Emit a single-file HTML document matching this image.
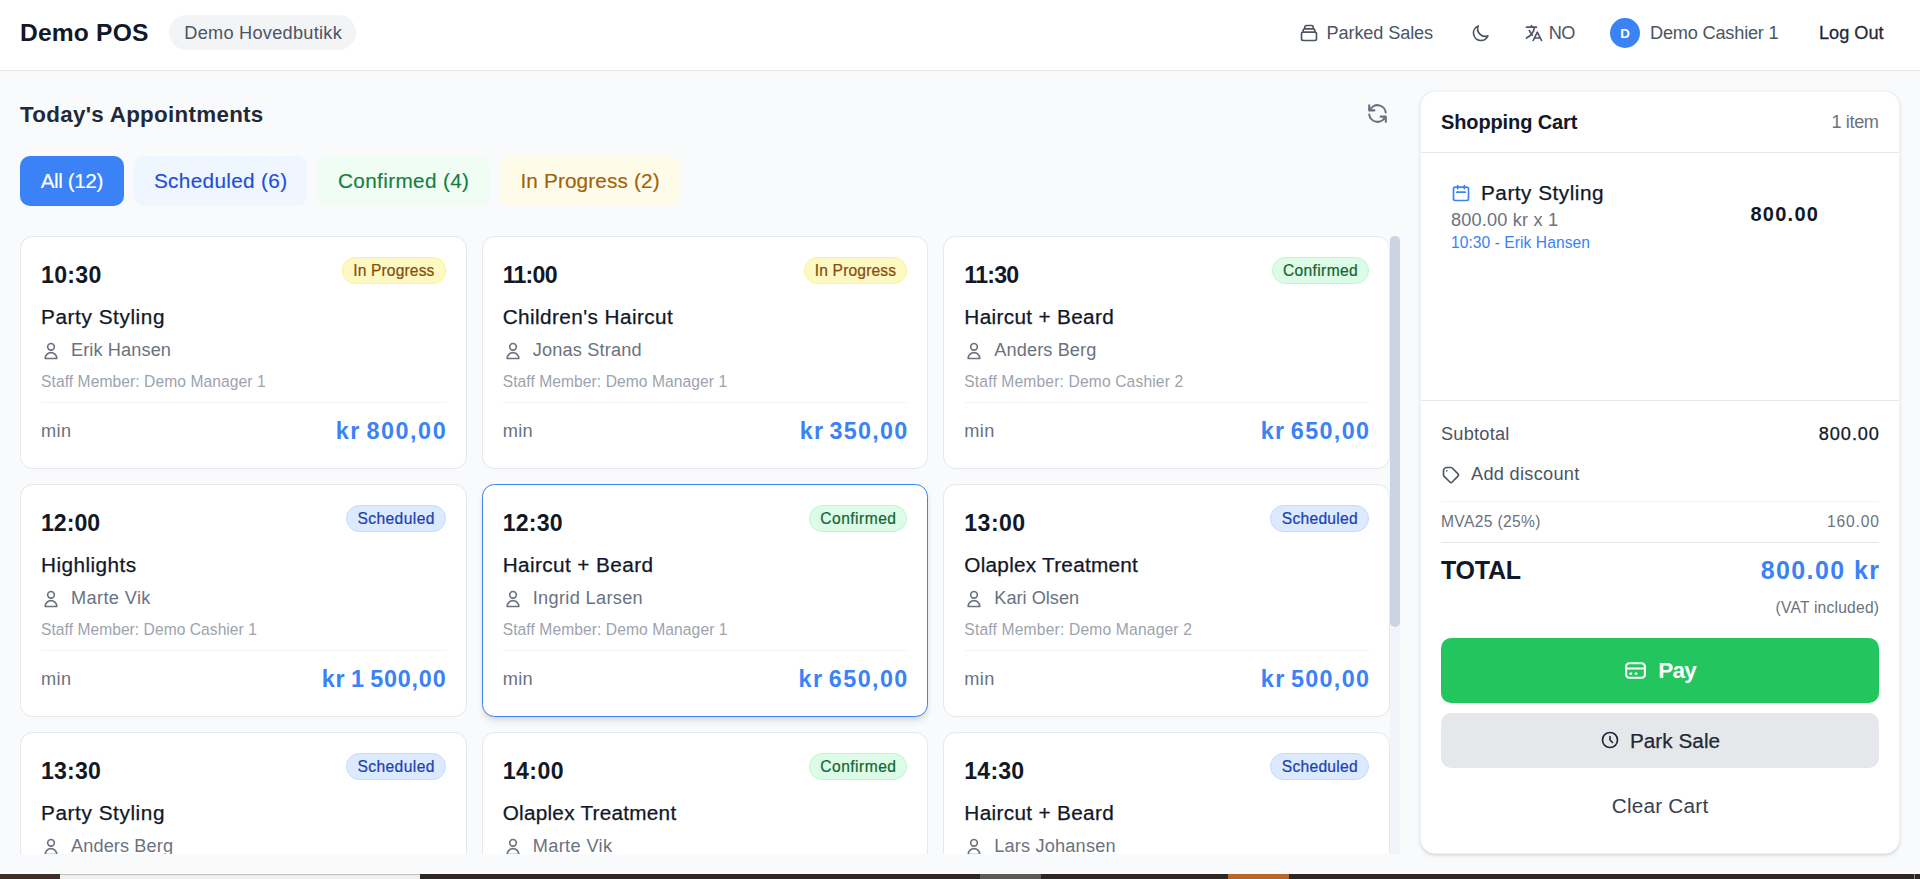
<!DOCTYPE html>
<html lang="en">
<head>
<meta charset="utf-8">
<title>Demo POS</title>
<style>
*{box-sizing:border-box;margin:0;padding:0}
html,body{width:1920px;height:879px;overflow:hidden;background:#f9fafb}
body{font-family:"Liberation Sans",sans-serif;color:#111827;position:relative}
#app{zoom:1.25;width:1536px;height:699.2px;position:absolute;left:0;top:0;background:#f9fafb;overflow:hidden}
svg{display:block;fill:none;stroke:currentColor;stroke-width:2;stroke-linecap:round;stroke-linejoin:round}
span{white-space:nowrap}

/* header */
.hdr{position:relative;height:56.8px;background:#fff;border-bottom:1px solid #e5e7eb}
.hi{position:absolute;top:0;height:52.8px;display:flex;align-items:center;white-space:nowrap}
.brand{left:16px;top:-.7px;font-size:19.7px;line-height:28px;font-weight:700;color:#111827}
.store{left:135.4px;top:12px;height:28px;width:149.3px;font-size:14.55px;line-height:20px;color:#4b5563;background:#f3f4f6;border-radius:9999px;padding:0 12px}
.hr{color:#4b5563;font-size:14.55px;line-height:20px}
.i4{width:16px;height:16px;flex:none}
.i5{width:20px;height:20px;flex:none}
.avatar{width:24px;height:24px;border-radius:50%;background:#3b82f6;color:#fff;font-size:10.6px;font-weight:700;display:flex;align-items:center;justify-content:center}
.logout{color:#1f2937}
.store span{position:relative;top:.5px}
.med{-webkit-text-stroke:.22px currentColor}

/* layout */
.wrap{display:flex;height:642.4px}
.main{flex:1;padding:16px 0 0 16px;min-width:0}
.trow{display:flex;align-items:center;justify-content:space-between;height:36px;margin-bottom:16px;width:1104px}
.title{font-size:17.9px;line-height:28px;font-weight:700;color:#1f2937;position:relative;top:.4px}
.refresh{width:36px;height:36px;display:flex;align-items:center;justify-content:center;color:#6b7280}
.tabs{display:flex;gap:8px;margin-bottom:24px}
.tab{font-size:16.6px;line-height:24px;padding:8px 0;border-radius:8px;white-space:nowrap;text-align:center;-webkit-text-stroke:.12px currentColor}
.t1{background:#3b82f6;color:#fff;width:83.2px}
.t2{background:#eff6ff;color:#1d4ed8;width:138.4px}
.t3{background:#f0fdf4;color:#15803d;width:138.4px}
.t4{background:#fefce8;color:#a16207;width:144px}

.scroll{position:relative;width:1104px;height:494px;overflow:hidden}
.grid{display:grid;grid-template-columns:repeat(3,357.33px);gap:12px;width:1096px}
.track{position:absolute;right:0;top:0;width:8px;height:494px;background:#f1f5f9}
.thumb{position:absolute;right:0;top:0;width:8px;height:312.5px;border-radius:4px;background:#cbd5e1}

.card{background:#fff;border:1px solid #e5e7eb;border-radius:10px;padding:16px;height:186.4px}
.card.hov{border-color:#3b82f6;box-shadow:0 4px 6px -1px rgba(0,0,0,.1),0 2px 4px -2px rgba(0,0,0,.1)}
.r1{display:flex;justify-content:space-between;align-items:flex-start;margin-bottom:8px}
.time{font-size:18.5px;line-height:28px;font-weight:700;color:#111827;position:relative;top:.4px}
.bdg{-webkit-text-stroke:.18px currentColor;font-size:12.5px;line-height:16px;padding:2px 8.2px;border-radius:9999px;border:1px solid;white-space:nowrap}
.b-p{background:#fef9c3;color:#854d0e;border-color:#fef08a}
.b-c{background:#dcfce7;color:#166534;border-color:#bbf7d0}
.b-s{background:#dbeafe;color:#1e40af;border-color:#bfdbfe}
.svc{font-size:16.6px;line-height:24px;color:#111827;-webkit-text-stroke:.2px currentColor}
.cust{margin-top:5px;display:flex;align-items:center;gap:8px;font-size:14.55px;line-height:20px;color:#6b7280}
.staff{margin-top:7px;font-size:12.5px;line-height:16px;color:#9ca3af}
.foot{margin-top:8px;padding-top:9px;border-top:1px solid #f3f4f6;display:flex;justify-content:space-between;align-items:center}
.min{font-size:14.55px;line-height:20px;color:#6b7280}
.price{font-size:18.7px;line-height:28px;font-weight:700;color:#3b82f6;word-spacing:-2px}

/* cart */
.cart{width:384px;margin:16px 16px 0 16px;height:610.2px;background:#fff;border:1px solid #f1f2f4;border-radius:12px;box-shadow:0 1px 3px 0 rgba(0,0,0,.1),0 1px 2px -1px rgba(0,0,0,.1);display:flex;flex-direction:column;flex:none}
.chead{display:flex;justify-content:space-between;align-items:center;padding:12px 16px;border-bottom:1px solid #e5e7eb}
.ctitle{font-size:16px;line-height:24px;font-weight:700;color:#111827}
.ccount{font-size:14.55px;line-height:20px;color:#6b7280}
.items{flex:1;padding:12px}
.item{padding:8px 12px;display:flex;justify-content:space-between;align-items:center}
.iname{display:flex;align-items:center;gap:8px;font-size:16.6px;line-height:24px;color:#111827;-webkit-text-stroke:.2px currentColor}
.iname svg{color:#3b82f6}
.isub{font-size:14.55px;line-height:20px;color:#6b7280}
.iappt{font-size:12.5px;line-height:16px;color:#3b82f6}
.iamt{font-size:16px;line-height:24px;font-weight:700;color:#111827;margin-right:40.8px;position:relative;top:-1px}
.tot{border-top:1px solid #e5e7eb;padding:16.8px 16px 16px}
.row{display:flex;justify-content:space-between;align-items:center}
.sub{font-size:14.55px;line-height:20px;color:#4b5563}
.sub .v{color:#111827;-webkit-text-stroke:.2px currentColor}
.disc{margin-top:8px;padding:4px 0;display:flex;align-items:center;gap:8px;font-size:14.55px;line-height:20px;color:#4b5563}
.vat{margin-top:7px;padding-top:8px;border-top:1px solid #f3f4f6;font-size:12.5px;line-height:16px;color:#6b7280}
.total{margin-top:8px;padding-top:8px;border-top:1px solid #e5e7eb;font-size:20px;line-height:28px;font-weight:700;color:#111827}
.total .amt{color:#3b82f6}
.incl{margin-top:8px;text-align:right;font-size:12.5px;line-height:16px;color:#6b7280}
.pay{margin-top:16px;height:52px;border-radius:8px;background:#22c55e;color:#fff;font-size:18px;line-height:28px;font-weight:700;display:flex;align-items:center;justify-content:center;gap:8px}
.park{margin-top:8px;height:44px;border-radius:8px;background:#e5e7eb;color:#1f2937;font-size:16.6px;line-height:24px;-webkit-text-stroke:.2px currentColor;display:flex;align-items:center;justify-content:center;gap:8px}
.park span,.clear span{position:relative;top:.6px}
.clear{margin-top:8px;height:44px;color:#374151;font-size:16.6px;line-height:24px;display:flex;align-items:center;justify-content:center}

/* bottom strip (outside app, device px) */
#strip{position:absolute;left:0;top:873px;width:1920px;height:6px;background:#fff}
#strip i{position:absolute;top:1px;height:5px;display:block}

/* per-string letter-spacing to match reference text extents */
#brand{letter-spacing:0.137px;margin-right:-0.137px}
#c1b{letter-spacing:0.112px;margin-right:-0.112px}
#c1d{letter-spacing:0.300px;margin-right:-0.300px}
#c1m{letter-spacing:0.059px;margin-right:-0.059px}
#c1n{letter-spacing:0.080px;margin-right:-0.080px}
#c1p{letter-spacing:1.240px;margin-right:-1.240px}
#c1s{letter-spacing:0.467px;margin-right:-0.467px}
#c1t{letter-spacing:0.240px;margin-right:-0.240px}
#c2b{letter-spacing:0.112px;margin-right:-0.112px}
#c2d{letter-spacing:0.300px;margin-right:-0.300px}
#c2m{letter-spacing:0.053px;margin-right:-0.053px}
#c2n{letter-spacing:0.145px;margin-right:-0.145px}
#c2p{letter-spacing:1.000px;margin-right:-1.000px}
#c2s{letter-spacing:0.329px;margin-right:-0.329px}
#c2t{letter-spacing:-0.600px;margin-right:0.600px}
#c3b{letter-spacing:0.280px;margin-right:-0.280px}
#c3d{letter-spacing:0.300px;margin-right:-0.300px}
#c3m{letter-spacing:0.119px;margin-right:-0.119px}
#c3n{letter-spacing:0.080px;margin-right:-0.080px}
#c3p{letter-spacing:1.064px;margin-right:-1.064px}
#c3s{letter-spacing:0.264px;margin-right:-0.264px}
#c3t{letter-spacing:-0.600px;margin-right:0.600px}
#c4b{letter-spacing:0.320px;margin-right:-0.320px}
#c4d{letter-spacing:0.300px;margin-right:-0.300px}
#c4m{letter-spacing:0.030px;margin-right:-0.030px}
#c4n{letter-spacing:0.300px;margin-right:-0.300px}
#c4p{letter-spacing:0.640px;margin-right:-0.640px}
#c4s{letter-spacing:0.356px;margin-right:-0.356px}
#c4t{letter-spacing:0.000px;margin-right:-0.000px}
#c5b{letter-spacing:0.380px;margin-right:-0.380px}
#c5d{letter-spacing:0.300px;margin-right:-0.300px}
#c5m{letter-spacing:0.065px;margin-right:-0.065px}
#c5n{letter-spacing:0.267px;margin-right:-0.267px}
#c5p{letter-spacing:1.120px;margin-right:-1.120px}
#c5s{letter-spacing:0.321px;margin-right:-0.321px}
#c5t{letter-spacing:0.152px;margin-right:-0.152px}
#c6b{letter-spacing:0.220px;margin-right:-0.220px}
#c6d{letter-spacing:0.300px;margin-right:-0.300px}
#c6m{letter-spacing:0.147px;margin-right:-0.147px}
#c6n{letter-spacing:-0.001px;margin-right:0.001px}
#c6p{letter-spacing:1.060px;margin-right:-1.060px}
#c6s{letter-spacing:0.198px;margin-right:-0.198px}
#c6t{letter-spacing:0.360px;margin-right:-0.360px}
#c7b{letter-spacing:0.320px;margin-right:-0.320px}
#c7n{letter-spacing:0.080px;margin-right:-0.080px}
#c7s{letter-spacing:0.467px;margin-right:-0.467px}
#c7t{letter-spacing:0.160px;margin-right:-0.160px}
#c8b{letter-spacing:0.380px;margin-right:-0.380px}
#c8n{letter-spacing:0.300px;margin-right:-0.300px}
#c8s{letter-spacing:0.199px;margin-right:-0.199px}
#c8t{letter-spacing:0.360px;margin-right:-0.360px}
#c9b{letter-spacing:0.220px;margin-right:-0.220px}
#c9n{letter-spacing:0.133px;margin-right:-0.133px}
#c9s{letter-spacing:0.264px;margin-right:-0.264px}
#c9t{letter-spacing:0.152px;margin-right:-0.152px}
#ccount{letter-spacing:-0.320px;margin-right:0.320px}
#cleart{letter-spacing:0.161px;margin-right:-0.161px}
#ctitle{letter-spacing:-0.094px;margin-right:0.094px}
#disct{letter-spacing:0.232px;margin-right:-0.232px}
#iamt{letter-spacing:1.024px;margin-right:-1.024px}
#iappt{letter-spacing:0.044px;margin-right:-0.044px}
#iname{letter-spacing:0.401px;margin-right:-0.401px}
#incl{letter-spacing:0.173px;margin-right:-0.173px}
#isub{letter-spacing:0.133px;margin-right:-0.133px}
#langt{letter-spacing:-0.500px}
#logout{letter-spacing:0.000px;margin-right:-0.000px}
#parkedt{letter-spacing:-0.102px;margin-right:0.102px}
#parkt{letter-spacing:0.020px;margin-right:-0.020px}
#payt{letter-spacing:-0.652px;margin-right:0.652px}
#store{letter-spacing:0.213px;margin-right:-0.213px}
#subl{letter-spacing:0.183px;margin-right:-0.183px}
#subv{letter-spacing:0.736px;margin-right:-0.736px}
#tab1{letter-spacing:-0.343px;margin-right:0.343px}
#tab2{letter-spacing:0.266px;margin-right:-0.266px}
#tab3{letter-spacing:0.283px;margin-right:-0.283px}
#tab4{letter-spacing:0.107px;margin-right:-0.107px}
#title{letter-spacing:0.239px;margin-right:-0.239px}
#totl{letter-spacing:-0.208px;margin-right:0.208px}
#totv{letter-spacing:1.124px;margin-right:-1.124px}
#usert{letter-spacing:-0.161px;margin-right:0.161px}
#vatl{letter-spacing:0.272px;margin-right:-0.272px}
#vatv{letter-spacing:0.672px;margin-right:-0.672px}
</style>
</head>
<body>
<div id="app">
  <div class="hdr">
    <div class="hi brand"><span id="brand">Demo POS</span></div>
    <div class="hi store"><span id="store">Demo Hovedbutikk</span></div>
    <div class="hi hr" style="left:1039.2px;gap:6px"><svg class="i4" viewBox="0 0 24 24"><path d="M19 11H5m14 0a2 2 0 012 2v6a2 2 0 01-2 2H5a2 2 0 01-2-2v-6a2 2 0 012-2m14 0V9a2 2 0 00-2-2M5 11V9a2 2 0 012-2m0 0V5a2 2 0 012-2h6a2 2 0 012 2v2M7 7h10"/></svg><span id="parkedt">Parked Sales</span></div>
    <div class="hi hr" style="left:1176.4px"><svg class="i4" viewBox="0 0 24 24"><path d="M20.354 15.354A9 9 0 018.646 3.646 9.003 9.003 0 0012 21a9.003 9.003 0 008.354-5.646z"/></svg></div>
    <div class="hi hr" style="left:1219px;gap:4px"><svg class="i4" viewBox="0 0 24 24"><path d="M3 5h12M9 3v2m1.048 9.5A18.022 18.022 0 016.412 9m6.088 9h7M11 21l5-10 5 10M12.751 5C11.783 10.77 8.07 15.61 3 18.129"/></svg><span id="langt">NO</span></div>
    <div class="hi hr" style="left:1288px;gap:8px"><div class="avatar">D</div><span id="usert">Demo Cashier 1</span></div>
    <div class="hi hr logout med" style="left:1455.2px"><span id="logout">Log Out</span></div>
  </div>

  <div class="wrap">
    <div class="main">
      <div class="trow">
        <div class="title"><span id="title">Today's Appointments</span></div>
        <div class="refresh"><svg class="i5" viewBox="0 0 24 24"><path d="M4 4v5h.582m15.356 2A8.001 8.001 0 004.582 9m0 0H9m11 11v-5h-.581m0 0a8.003 8.003 0 01-15.357-2m15.357 2H15"/></svg></div>
      </div>
      <div class="tabs">
        <div class="tab t1"><span id="tab1">All (12)</span></div>
        <div class="tab t2"><span id="tab2">Scheduled (6)</span></div>
        <div class="tab t3"><span id="tab3">Confirmed (4)</span></div>
        <div class="tab t4"><span id="tab4">In Progress (2)</span></div>
      </div>
      <div class="scroll">
        <div class="grid">
          <div class="card" id="c1">
            <div class="r1"><div class="time"><span id="c1t">10:30</span></div><div class="bdg b-p"><span id="c1b">In Progress</span></div></div>
            <div class="svc"><span id="c1s">Party Styling</span></div>
            <div class="cust"><svg class="i4" viewBox="0 0 24 24"><path d="M16 7a4 4 0 11-8 0 4 4 0 018 0zM12 14a7 7 0 00-7 7h14a7 7 0 00-7-7z"/></svg><span id="c1n">Erik Hansen</span></div>
            <div class="staff"><span id="c1m">Staff Member: Demo Manager 1</span></div>
            <div class="foot"><span class="min"><span id="c1d">min</span></span><span class="price"><span id="c1p">kr 800,00</span></span></div>
          </div>
          <div class="card" id="c2">
            <div class="r1"><div class="time"><span id="c2t">11:00</span></div><div class="bdg b-p"><span id="c2b">In Progress</span></div></div>
            <div class="svc"><span id="c2s">Children's Haircut</span></div>
            <div class="cust"><svg class="i4" viewBox="0 0 24 24"><path d="M16 7a4 4 0 11-8 0 4 4 0 018 0zM12 14a7 7 0 00-7 7h14a7 7 0 00-7-7z"/></svg><span id="c2n">Jonas Strand</span></div>
            <div class="staff"><span id="c2m">Staff Member: Demo Manager 1</span></div>
            <div class="foot"><span class="min"><span id="c2d">min</span></span><span class="price"><span id="c2p">kr 350,00</span></span></div>
          </div>
          <div class="card" id="c3">
            <div class="r1"><div class="time"><span id="c3t">11:30</span></div><div class="bdg b-c"><span id="c3b">Confirmed</span></div></div>
            <div class="svc"><span id="c3s">Haircut + Beard</span></div>
            <div class="cust"><svg class="i4" viewBox="0 0 24 24"><path d="M16 7a4 4 0 11-8 0 4 4 0 018 0zM12 14a7 7 0 00-7 7h14a7 7 0 00-7-7z"/></svg><span id="c3n">Anders Berg</span></div>
            <div class="staff"><span id="c3m">Staff Member: Demo Cashier 2</span></div>
            <div class="foot"><span class="min"><span id="c3d">min</span></span><span class="price"><span id="c3p">kr 650,00</span></span></div>
          </div>
          <div class="card" id="c4">
            <div class="r1"><div class="time"><span id="c4t">12:00</span></div><div class="bdg b-s"><span id="c4b">Scheduled</span></div></div>
            <div class="svc"><span id="c4s">Highlights</span></div>
            <div class="cust"><svg class="i4" viewBox="0 0 24 24"><path d="M16 7a4 4 0 11-8 0 4 4 0 018 0zM12 14a7 7 0 00-7 7h14a7 7 0 00-7-7z"/></svg><span id="c4n">Marte Vik</span></div>
            <div class="staff"><span id="c4m">Staff Member: Demo Cashier 1</span></div>
            <div class="foot"><span class="min"><span id="c4d">min</span></span><span class="price"><span id="c4p">kr&#8239;1&#8239;500,00</span></span></div>
          </div>
          <div class="card hov" id="c5">
            <div class="r1"><div class="time"><span id="c5t">12:30</span></div><div class="bdg b-c"><span id="c5b">Confirmed</span></div></div>
            <div class="svc"><span id="c5s">Haircut + Beard</span></div>
            <div class="cust"><svg class="i4" viewBox="0 0 24 24"><path d="M16 7a4 4 0 11-8 0 4 4 0 018 0zM12 14a7 7 0 00-7 7h14a7 7 0 00-7-7z"/></svg><span id="c5n">Ingrid Larsen</span></div>
            <div class="staff"><span id="c5m">Staff Member: Demo Manager 1</span></div>
            <div class="foot"><span class="min"><span id="c5d">min</span></span><span class="price"><span id="c5p">kr 650,00</span></span></div>
          </div>
          <div class="card" id="c6">
            <div class="r1"><div class="time"><span id="c6t">13:00</span></div><div class="bdg b-s"><span id="c6b">Scheduled</span></div></div>
            <div class="svc"><span id="c6s">Olaplex Treatment</span></div>
            <div class="cust"><svg class="i4" viewBox="0 0 24 24"><path d="M16 7a4 4 0 11-8 0 4 4 0 018 0zM12 14a7 7 0 00-7 7h14a7 7 0 00-7-7z"/></svg><span id="c6n">Kari Olsen</span></div>
            <div class="staff"><span id="c6m">Staff Member: Demo Manager 2</span></div>
            <div class="foot"><span class="min"><span id="c6d">min</span></span><span class="price"><span id="c6p">kr 500,00</span></span></div>
          </div>
          <div class="card" id="c7">
            <div class="r1"><div class="time"><span id="c7t">13:30</span></div><div class="bdg b-s"><span id="c7b">Scheduled</span></div></div>
            <div class="svc"><span id="c7s">Party Styling</span></div>
            <div class="cust"><svg class="i4" viewBox="0 0 24 24"><path d="M16 7a4 4 0 11-8 0 4 4 0 018 0zM12 14a7 7 0 00-7 7h14a7 7 0 00-7-7z"/></svg><span id="c7n">Anders Berg</span></div>
            <div class="staff"><span id="c7m">Staff Member: Demo Manager 1</span></div>
            <div class="foot"><span class="min"><span id="c7d">min</span></span><span class="price"><span id="c7p">kr 800,00</span></span></div>
          </div>
          <div class="card" id="c8">
            <div class="r1"><div class="time"><span id="c8t">14:00</span></div><div class="bdg b-c"><span id="c8b">Confirmed</span></div></div>
            <div class="svc"><span id="c8s">Olaplex Treatment</span></div>
            <div class="cust"><svg class="i4" viewBox="0 0 24 24"><path d="M16 7a4 4 0 11-8 0 4 4 0 018 0zM12 14a7 7 0 00-7 7h14a7 7 0 00-7-7z"/></svg><span id="c8n">Marte Vik</span></div>
            <div class="staff"><span id="c8m">Staff Member: Demo Cashier 1</span></div>
            <div class="foot"><span class="min"><span id="c8d">min</span></span><span class="price"><span id="c8p">kr 500,00</span></span></div>
          </div>
          <div class="card" id="c9">
            <div class="r1"><div class="time"><span id="c9t">14:30</span></div><div class="bdg b-s"><span id="c9b">Scheduled</span></div></div>
            <div class="svc"><span id="c9s">Haircut + Beard</span></div>
            <div class="cust"><svg class="i4" viewBox="0 0 24 24"><path d="M16 7a4 4 0 11-8 0 4 4 0 018 0zM12 14a7 7 0 00-7 7h14a7 7 0 00-7-7z"/></svg><span id="c9n">Lars Johansen</span></div>
            <div class="staff"><span id="c9m">Staff Member: Demo Cashier 2</span></div>
            <div class="foot"><span class="min"><span id="c9d">min</span></span><span class="price"><span id="c9p">kr 650,00</span></span></div>
          </div>
        </div>
        <div class="track"></div>
        <div class="thumb"></div>
      </div>
    </div>

    <div class="cart" id="cart">
      <div class="chead"><div class="ctitle"><span id="ctitle">Shopping Cart</span></div><div class="ccount"><span id="ccount">1 item</span></div></div>
      <div class="items">
        <div class="item">
          <div>
            <div class="iname"><svg class="i4" viewBox="0 0 24 24"><path d="M8 7V3m8 4V3m-9 8h10M5 21h14a2 2 0 002-2V7a2 2 0 00-2-2H5a2 2 0 00-2 2v12a2 2 0 002 2z"/></svg><span id="iname">Party Styling</span></div>
            <div class="isub"><span id="isub">800.00 kr x 1</span></div>
            <div class="iappt"><span id="iappt">10:30 - Erik Hansen</span></div>
          </div>
          <div class="iamt"><span id="iamt">800.00</span></div>
        </div>
      </div>
      <div class="tot">
        <div class="row sub"><span id="subl">Subtotal</span><span class="v" id="subv">800.00</span></div>
        <div class="disc"><svg class="i4" viewBox="0 0 24 24"><path d="M7 7h.01M7 3h5c.512 0 1.024.195 1.414.586l7 7a2 2 0 010 2.828l-7 7a2 2 0 01-2.828 0l-7-7A1.994 1.994 0 013 12V7a4 4 0 014-4z"/></svg><span id="disct">Add discount</span></div>
        <div class="row vat"><span id="vatl">MVA25 (25%)</span><span id="vatv">160.00</span></div>
        <div class="row total"><span id="totl">TOTAL</span><span class="amt" id="totv">800.00 kr</span></div>
        <div class="incl"><span id="incl">(VAT included)</span></div>
        <div class="pay" id="pay"><svg class="i5" viewBox="0 0 24 24"><path d="M3 10h18M7 15h1m4 0h1m-7 4h12a3 3 0 003-3V8a3 3 0 00-3-3H6a3 3 0 00-3 3v8a3 3 0 003 3z"/></svg><span id="payt">Pay</span></div>
        <div class="park" id="park"><svg class="i4" viewBox="0 0 24 24"><path d="M12 8v4l3 3m6-3a9 9 0 11-18 0 9 9 0 0118 0z"/></svg><span id="parkt">Park Sale</span></div>
        <div class="clear" id="clear"><span id="cleart">Clear Cart</span></div>
      </div>
    </div>
  </div>
</div>
<div id="strip">
  <i style="left:0;width:60px;background:#3f2e28"></i>
  <i style="left:60px;width:360px;background:#efefef;border-top:1px solid #bdbdbd"></i>
  <i style="left:420px;width:1500px;background:#2f2624"></i>
  <i style="left:980px;width:61px;background:#5f5955"></i>
  <i style="left:1228px;width:61px;background:#b8672b"></i>
  <i style="left:1914px;width:1px;background:#8a8583"></i>
</div>

</body>
</html>
